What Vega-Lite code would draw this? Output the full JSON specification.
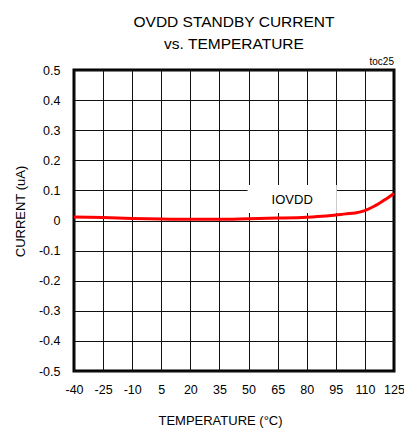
{
  "$schema": "https://vega.github.io/schema/vega-lite/v6.json",
  "width": 320,
  "height": 301,
  "autosize": {"type": "none"},
  "padding": {"left": 74, "top": 70, "right": 10, "bottom": 58},
  "background": "white",
  "title": {
    "text": ["OVDD STANDBY CURRENT", "vs. TEMPERATURE"],
    "font": "Liberation Sans",
    "fontSize": 15.5,
    "fontWeight": "normal",
    "lineHeight": 22,
    "anchor": "middle",
    "offset": 5,
    "color": "black"
  },
  "config": {
    "view": {"stroke": "black", "strokeWidth": 3},
    "font": "Liberation Sans",
    "axis": {
      "grid": true,
      "gridColor": "#111",
      "gridWidth": 1,
      "gridOpacity": 1,
      "domain": false,
      "ticks": false,
      "labelOverlap": false,
      "labelFlush": false,
      "labelBound": false,
      "labelFont": "Liberation Sans",
      "labelFontSize": 12.5,
      "labelColor": "black",
      "titleFont": "Liberation Sans",
      "titleFontSize": 13,
      "titleFontWeight": "normal",
      "titleColor": "black"
    }
  },
  "data": {
    "values": [
      {"t": -40, "i": 0.012},
      {"t": -25, "i": 0.010},
      {"t": -10, "i": 0.007},
      {"t": 5, "i": 0.005},
      {"t": 20, "i": 0.004},
      {"t": 35, "i": 0.004},
      {"t": 50, "i": 0.006},
      {"t": 65, "i": 0.008},
      {"t": 80, "i": 0.011},
      {"t": 90, "i": 0.015},
      {"t": 95, "i": 0.018},
      {"t": 100, "i": 0.022},
      {"t": 105, "i": 0.025},
      {"t": 110, "i": 0.033},
      {"t": 115, "i": 0.048},
      {"t": 120, "i": 0.068},
      {"t": 125, "i": 0.09}
    ]
  },
  "layer": [
    {
      "data": {"values": [{}]},
      "mark": {"type": "rect", "fill": "white", "stroke": null},
      "encoding": {
        "x": {
          "datum": 49.5,
          "type": "quantitative",
          "scale": {"domain": [-40, 125], "nice": false, "zero": false},
          "axis": {
            "values": [-40, -25, -10, 5, 20, 35, 50, 65, 80, 95, 110, 125],
            "tickCount": 20,
            "labelExpr": "replace(datum.label, '\u2212', '-')",
            "labelPadding": 12,
            "title": "TEMPERATURE  (°C)",
            "titleX": 146,
            "titleAlign": "center",
            "titlePadding": 19
          }
        },
        "x2": {"datum": 95.5},
        "y": {
          "datum": 0.118,
          "type": "quantitative",
          "scale": {"domain": [-0.5, 0.5], "nice": false, "zero": false},
          "axis": {
            "values": [-0.5, -0.4, -0.3, -0.2, -0.1, 0, 0.1, 0.2, 0.3, 0.4, 0.5],
            "tickCount": 20,
            "format": ".1~f",
            "labelExpr": "replace(datum.label, '\u2212', '-')",
            "labelPadding": 14,
            "title": "CURRENT (uA)",
            "titleX": -54,
            "titleY": 141,
            "titleAngle": 270,
            "titleAlign": "center",
            "titleBaseline": "middle"
          }
        },
        "y2": {"datum": 0.025}
      }
    },
    {
      "data": {"values": [{}]},
      "mark": {"type": "text", "fontSize": 13, "fontWeight": "normal", "font": "Liberation Sans", "color": "black"},
      "encoding": {
        "x": {"datum": 72.5, "type": "quantitative"},
        "y": {"datum": 0.068, "type": "quantitative"},
        "text": {"value": "IOVDD"}
      }
    },
    {
      "data": {"values": [{}]},
      "mark": {"type": "text", "fontSize": 10, "fontWeight": "normal", "font": "Liberation Sans", "color": "black", "align": "right", "baseline": "bottom", "dy": -3},
      "encoding": {
        "x": {"datum": 125, "type": "quantitative"},
        "y": {"datum": 0.5, "type": "quantitative"},
        "text": {"value": "toc25"}
      }
    },
    {
      "mark": {"type": "line", "color": "#ff0000", "strokeWidth": 3, "interpolate": "monotone"},
      "encoding": {
        "x": {"field": "t", "type": "quantitative"},
        "y": {"field": "i", "type": "quantitative"}
      }
    }
  ]
}
